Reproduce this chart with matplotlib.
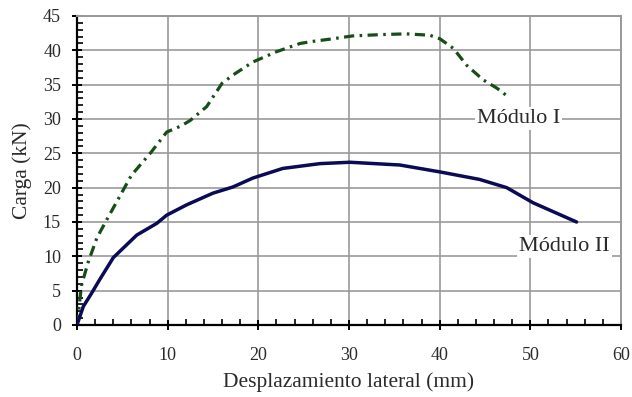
import numpy as np
import matplotlib
matplotlib.use("Agg")
import matplotlib.pyplot as plt
from matplotlib.ticker import MultipleLocator

# Módulo I (dash-dot green)
x_m1 = [0, 0.5, 1.25, 2.2, 3.4, 4.7, 6.0, 8.2, 9.9, 11.5, 12.5, 14.3, 16.0, 17.2,
        19.4, 22.0, 24.6, 26.0, 28.3, 30.4, 33.7, 36.3, 38.9, 40.0, 41.5, 43.0,
        44.8, 46.3, 47.5]
y_m1 = [0, 5.8, 9.2, 12.7, 15.6, 18.7, 21.8, 25.2, 28.1, 29.0, 29.8, 31.8, 35.2, 36.4,
        38.3, 39.8, 41.0, 41.3, 41.7, 42.1, 42.3, 42.4, 42.2, 41.7, 40.3, 37.8,
        35.7, 34.5, 33.3]

# Módulo II (solid navy)
x_m2 = [0, 0.7, 1.6, 2.5, 4.0, 5.1, 6.6, 8.8, 9.9, 12.1, 15.0, 17.2, 19.4, 22.7,
        26.8, 30.1, 35.6, 40.0, 44.4, 47.4, 50.3, 55.1]
y_m2 = [0, 2.7, 4.6, 6.6, 9.8, 11.2, 13.1, 14.8, 16.0, 17.5, 19.2, 20.1, 21.4, 22.8,
        23.5, 23.7, 23.3, 22.3, 21.2, 20.0, 17.8, 15.0]

plt.rcParams['font.family'] = ['Liberation Serif', 'DejaVu Serif']
txt = '#2a2a2a'

fig = plt.figure(figsize=(6.32, 3.97), dpi=100)
ax = fig.add_axes([0.1218, 0.1814, 0.8608, 0.7783])

ax.plot(x_m1, y_m1, color='#174d17', lw=2.3, linestyle=(0, (3.2, 1.7, 0.8, 1.7)),
        dash_capstyle='butt', zorder=3)
ax.plot(x_m2, y_m2, color='#0a0a55', lw=2.5, solid_capstyle='round', zorder=3)

ax.set_xlim(0, 60)
ax.set_ylim(0, 45)
ax.xaxis.set_major_locator(MultipleLocator(10))
ax.xaxis.set_minor_locator(MultipleLocator(2))
ax.yaxis.set_major_locator(MultipleLocator(5))
ax.yaxis.set_minor_locator(MultipleLocator(1))

ax.grid(True, which='major', color='#999999', lw=1.2, zorder=0)
ax.set_axisbelow(True)

for side in ['top', 'right']:
    ax.spines[side].set_color('#999999')
    ax.spines[side].set_linewidth(1.4)
for side in ['left', 'bottom']:
    ax.spines[side].set_color('black')
    ax.spines[side].set_linewidth(1.6)

ax.tick_params(which='major', direction='inout', length=7, width=1.4, labelsize=13,
               colors='black', labelcolor=txt)
ax.tick_params(which='minor', direction='in', length=4, width=1.2)
ax.tick_params(axis='x', pad=12)
ax.tick_params(axis='y', pad=8)

ax.set_xlabel('Desplazamiento lateral (mm)', fontsize=15.5, color=txt, labelpad=6)
ax.set_ylabel('Carga (kN)', fontsize=15.5, color=txt, labelpad=8)

ax.text(48.7, 30.1, 'Módulo I', fontsize=16, color=txt, ha='center', va='center',
        bbox=dict(facecolor='white', edgecolor='none', pad=1.5), zorder=4)
ax.text(58.8, 11.5, 'Módulo II', fontsize=16, color=txt, ha='right', va='center',
        bbox=dict(facecolor='white', edgecolor='none', pad=1.5), zorder=4)

fig.savefig('out.png', dpi=100)
